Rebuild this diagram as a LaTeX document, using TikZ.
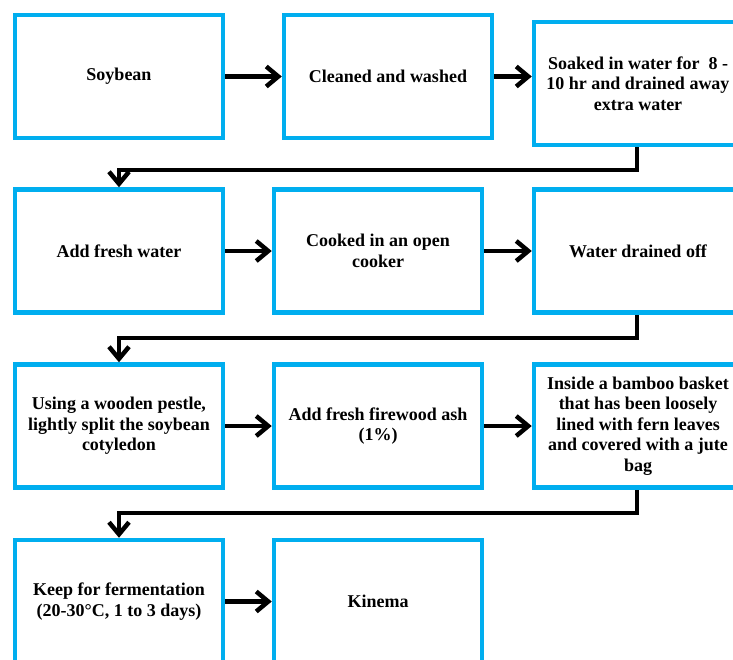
\documentclass[tikz,border=0pt]{standalone}
\usepackage{fontspec}
\setmainfont{Liberation Serif}
\usetikzlibrary{arrows.meta}
\definecolor{boxblue}{RGB}{0,174,239}

\begin{document}
\begin{tikzpicture}[x=1pt,y=-1pt,
    stepbox/.style={draw=boxblue, line width=4.5pt, minimum width=208pt, minimum height=123pt,
        align=center, inner sep=2pt, font=\fontsize{18}{20.5}\selectfont\bfseries},
    flow/.style={line width=4.5pt, -{Straight Barb[length=12pt,width=20pt]}}]
        \useasboundingbox (0,0) rectangle (733,659);
        \clip (0,0) rectangle (733,659);
        % row 1
        \node[stepbox] (soybean) at (119,76.5){Soybean};
        \node[stepbox] (cleaned) at (388,76.5){Cleaned and washed};
        \node[stepbox] (soaked) at (638,83.5){Soaked in water for~ 8 -\\10 hr and drained away\\extra water};
        % row 2
        \node[stepbox] (freshwater) at (119,251){Add fresh water};
        \node[stepbox] (cooked) at (378,251){Cooked in an open\\cooker};
        \node[stepbox] (drained) at (638,251){Water drained off};
        % row 3
        \node[stepbox] (pestle) at (119,426){Using a wooden pestle,\\lightly split the soybean\\cotyledon};
        \node[stepbox] (ash) at (378,426){Add fresh firewood ash\\(1\%)};
        \node[stepbox] (basket) at (638,426){Inside a bamboo basket\\that has been loosely\\lined with fern leaves\\and covered with a jute\\bag};
        % row 4
        \node[stepbox] (ferment) at (119,601.5){Keep for fermentation\\(20-30°C, 1 to 3 days)};
        \node[stepbox] (kinema) at (378,601.5){Kinema};
        % arrows
        \draw[flow] (soybean) -- (cleaned);
        \draw[flow] (cleaned) -- (soaked.west |- cleaned.east);
        \draw[flow] (freshwater) -- (cooked);
        \draw[flow] (cooked) -- (drained);
        \draw[flow] (pestle) -- (ash);
        \draw[flow] (ash) -- (basket);
        \draw[flow] (ferment) -- (kinema);
        \draw[flow] (soaked.south -| 637,0) -- (637,170) -| (freshwater.north);
        \draw[flow] (drained.south -| 637,0) -- (637,338) -| (pestle.north);
        \draw[flow] (basket.south -| 637,0) -- (637,513) -| (ferment.north);
\end{tikzpicture}
\end{document}
